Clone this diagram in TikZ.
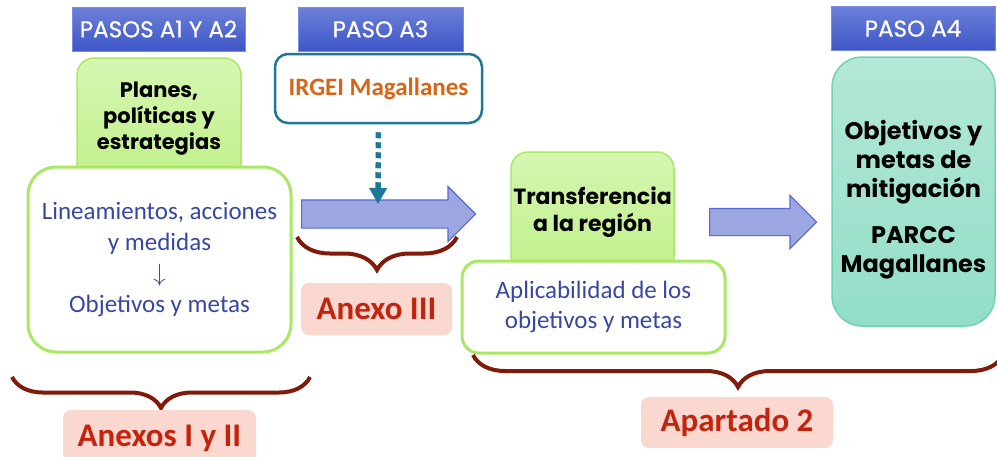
\documentclass[tikz,border=0pt]{standalone}
\usepackage{fontspec}
\setmainfont{Carlito}
\newfontfamily\popfont{Poppins}
\newfontfamily\pophdr[FakeBold=0.6]{Poppins}
\usetikzlibrary{arrows.meta,decorations.pathreplacing,shapes.arrows}
\definecolor{hdrtop}{RGB}{108,128,216}
\definecolor{hdrbot}{RGB}{62,86,200}
\definecolor{hdrline}{RGB}{120,140,225}
\definecolor{grntop}{RGB}{214,246,178}
\definecolor{grnbot}{RGB}{192,240,138}
\definecolor{grnline}{RGB}{168,232,98}
\definecolor{tealtop}{RGB}{180,231,216}
\definecolor{tealbot}{RGB}{146,222,200}
\definecolor{tealline}{RGB}{112,210,180}
\definecolor{irgeiline}{RGB}{28,120,150}
\definecolor{irgeitext}{RGB}{218,100,22}
\definecolor{flowfill}{RGB}{156,166,224}
\definecolor{flowline}{RGB}{90,106,206}
\definecolor{bracered}{RGB}{128,26,10}
\definecolor{tagfill}{RGB}{250,216,208}
\definecolor{tagtext}{RGB}{196,36,14}
\definecolor{bluetext}{RGB}{56,72,162}

\begin{document}
\begin{tikzpicture}[x=1pt,y=-1pt,
    hdr/.style={draw=hdrline,top color=hdrtop,bottom color=hdrbot,text=white,inner sep=0,
      minimum height=44pt,font=\pophdr\fontsize{23}{25}\selectfont},
    grnbox/.style={draw=grnline,line width=1.5pt,top color=grntop,bottom color=grnbot,inner sep=0,
      align=center,font=\popfont\bfseries\fontsize{21}{26}\selectfont},
    whtbox/.style={draw=grnline,line width=3pt,fill=white,inner sep=0,align=center,text=bluetext,
      font=\fontsize{25}{31}\selectfont},
    flow/.style={single arrow,draw=flowline,fill=flowfill,line width=1.2pt,inner xsep=0,
      single arrow tip angle=90,anchor=tail},
    brc/.style={draw=bracered,line width=4pt,decorate},
    tag/.style={fill=tagfill,rounded corners=8pt,text=tagtext,inner sep=0,
      font=\bfseries\fontsize{33}{36}\selectfont}]
  \useasboundingbox (0,0) rectangle (997,456);

  % headers
  \node[hdr,minimum width=173pt] (h12) at (158.5,29) {PASOS A1 Y A2};
  \node[hdr,minimum width=165pt] (h3) at (380.5,29) {PASO A3};
  \node[hdr,minimum width=164pt] (h4) at (913,28.5) {PASO A4};

  % pasos A1 y A2
  \node[grnbox,rounded corners=17pt,minimum width=164pt,minimum height=122pt] (planes) at (159,119)
    {Planes,\\ políticas y\\ estrategias};
  \node[whtbox,rounded corners=28pt,minimum width=263pt,minimum height=185pt] (lineas) at (159.5,259.5)
    {Lineamientos, acciones\\ y medidas\\ $\downarrow$\\ Objetivos y metas};

  % paso A3
  \node[draw=irgeiline,line width=2.5pt,rounded corners=13pt,fill=white,minimum width=207pt,
    minimum height=69pt,inner sep=0,text=irgeitext,font=\bfseries\fontsize{25}{30}\selectfont]
    (irgei) at (378.5,88.5) {IRGEI Magallanes};
  \node[flow,minimum height=174pt,inner ysep=13.5pt,single arrow head extend=13.5pt] (flow1) at (301,214) {};
  \coordinate (a3in) at (378,204);
  \draw[irgeiline,line width=5.5pt,dash pattern=on 6pt off 4pt,shorten <=8pt,
    -{Triangle[length=16pt,width=17pt]}] (irgei.south) -- (a3in);

  % transferencia
  \node[grnbox,rounded corners=17pt,minimum width=163pt,minimum height=121pt,
    font=\popfont\bfseries\fontsize{22}{27}\selectfont] (transf) at (592.5,212.5)
    {Transferencia\\ a la región};
  \node[whtbox,rounded corners=17pt,minimum width=263pt,minimum height=92pt,
    font=\fontsize{25}{30}\selectfont] (aplic) at (593.5,307)
    {Aplicabilidad de los\\ objetivos y metas};

  % paso A4
  \node[flow,minimum height=107pt,inner ysep=13pt,single arrow head extend=13pt] (flow2) at (709,222) {};
  \node[draw=tealline,line width=1.5pt,top color=tealtop,bottom color=tealbot,rounded corners=30pt,
    minimum width=163pt,minimum height=269pt] (parcc) at (913.5,191.5) {};
  \node[align=center,inner sep=0,font=\popfont\bfseries\fontsize{24}{29}\selectfont] (parcctxt)
    at (913.5,200) {Objetivos y\\ metas de\\ mitigación\\[17pt] PARCC\\ Magallanes};

  % llaves y anexos
  \draw[brc,decoration={brace,amplitude=31pt,mirror}] (12,377) -- (310,377);
  \node[tag,minimum width=193pt,minimum height=56pt] (anx12) at (159.5,438) {Anexos I y II};
  \draw[brc,decoration={brace,amplitude=33pt,mirror}] (297,237) -- (457,237);
  \node[tag,minimum width=151pt,minimum height=52pt] (anx3) at (376.5,309) {Anexo III};
  \draw[brc,decoration={brace,amplitude=32pt,mirror}] (473,355) -- (1003,355);
  \node[tag,minimum width=192pt,minimum height=51pt] (apart) at (737,422.5) {Apartado 2};
\end{tikzpicture}
\end{document}
